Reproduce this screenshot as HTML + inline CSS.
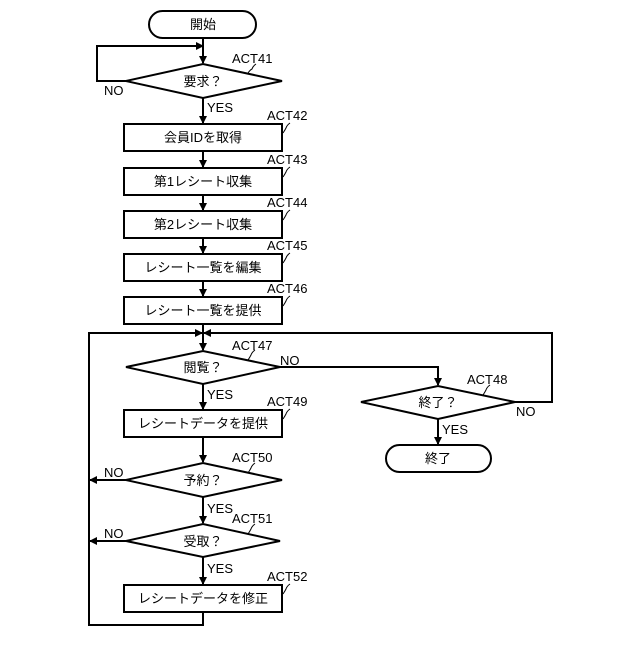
<!DOCTYPE html>
<html><head><meta charset="utf-8"><style>
body{margin:0;background:#fff}
svg text{font-family:"Liberation Sans","Noto Sans CJK JP",sans-serif;font-size:13px;fill:#000}
</style></head><body>
<svg width="640" height="640" viewBox="0 0 640 640" xmlns="http://www.w3.org/2000/svg">
<defs><marker id="a" markerWidth="8" markerHeight="8" refX="7" refY="4" orient="auto" markerUnits="userSpaceOnUse"><path d="M0,0 L8,4 L0,8 Z" fill="#000"/></marker></defs>
<g stroke="#000" stroke-width="2" fill="#fff">
<rect x="149" y="11" width="107" height="27" rx="13.5"/>
<polygon points="126,81 203,64 282,81 203,98"/>
<rect x="124" y="124" width="158" height="27"/>
<rect x="124" y="168" width="158" height="27"/>
<rect x="124" y="211" width="158" height="27"/>
<rect x="124" y="254" width="158" height="27"/>
<rect x="124" y="297" width="158" height="27"/>
<polygon points="126,367 203,351 280,367 203,384"/>
<polygon points="361,402 438,386 515,402 438,419"/>
<rect x="386" y="445" width="105" height="27" rx="13.5"/>
<rect x="124" y="410" width="158" height="27"/>
<polygon points="126,480 203,463 282,480 203,497"/>
<polygon points="126,541 203,524 280,541 203,557"/>
<rect x="124" y="585" width="158" height="27"/>
</g>
<g stroke="#000" stroke-width="2" fill="none">
<line x1="203" y1="38" x2="203" y2="63" marker-end="url(#a)"/>
<polyline points="126,81 97,81 97,46 203,46" marker-end="url(#a)"/>
<line x1="203" y1="98" x2="203" y2="123" marker-end="url(#a)"/>
<line x1="203" y1="151" x2="203" y2="167" marker-end="url(#a)"/>
<line x1="203" y1="195" x2="203" y2="210" marker-end="url(#a)"/>
<line x1="203" y1="238" x2="203" y2="253" marker-end="url(#a)"/>
<line x1="203" y1="281" x2="203" y2="296" marker-end="url(#a)"/>
<line x1="203" y1="324" x2="203" y2="350" marker-end="url(#a)"/>
<polyline points="203,612 203,625 89,625 89,333 202,333" marker-end="url(#a)"/>
<polyline points="515,402 552,402 552,333 204,333" marker-end="url(#a)"/>
<polyline points="280,367 438,367 438,385" marker-end="url(#a)"/>
<line x1="438" y1="419" x2="438" y2="444" marker-end="url(#a)"/>
<line x1="203" y1="384" x2="203" y2="409" marker-end="url(#a)"/>
<line x1="203" y1="437" x2="203" y2="462" marker-end="url(#a)"/>
<line x1="203" y1="497" x2="203" y2="523" marker-end="url(#a)"/>
<line x1="203" y1="557" x2="203" y2="584" marker-end="url(#a)"/>
<line x1="126" y1="480" x2="90" y2="480" marker-end="url(#a)"/>
<line x1="126" y1="541" x2="90" y2="541" marker-end="url(#a)"/>
</g>
<g stroke="#000" stroke-width="1" fill="none">
<path d="M248,73 q2,-3 4,-4 q1,-3 4,-5"/>
<path d="M283,133 q2,-3 3,-5 q1,-3 4,-5"/>
<path d="M283,177 q2,-3 3,-5 q1,-3 4,-5"/>
<path d="M283,220 q2,-3 3,-5 q1,-3 4,-5"/>
<path d="M283,263 q2,-3 3,-5 q1,-3 4,-5"/>
<path d="M283,306 q2,-3 3,-5 q1,-3 4,-5"/>
<path d="M248,360 q2,-3 3,-5 q1,-3 4,-5"/>
<path d="M483,395 q2,-3 3,-5 q1,-3 4,-5"/>
<path d="M283,419 q2,-3 3,-5 q1,-3 4,-5"/>
<path d="M248,473 q2,-3 3,-5 q1,-3 4,-5"/>
<path d="M248,534 q2,-3 3,-5 q1,-3 4,-5"/>
<path d="M283,594 q2,-3 3,-5 q1,-3 4,-5"/>
</g>
<g text-anchor="middle">
<text x="203" y="29">開始</text>
<text x="203" y="86">要求？</text>
<text x="203" y="142">会員IDを取得</text>
<text x="203" y="186">第1レシート収集</text>
<text x="203" y="229">第2レシート収集</text>
<text x="203" y="272">レシート一覧を編集</text>
<text x="203" y="315">レシート一覧を提供</text>
<text x="203" y="372">閲覧？</text>
<text x="438" y="407">終了？</text>
<text x="438" y="463">終了</text>
<text x="203" y="428">レシートデータを提供</text>
<text x="203" y="485">予約？</text>
<text x="203" y="546">受取？</text>
<text x="203" y="603">レシートデータを修正</text>
</g>
<g>
<text x="232" y="63">ACT41</text>
<text x="267" y="120">ACT42</text>
<text x="267" y="164">ACT43</text>
<text x="267" y="207">ACT44</text>
<text x="267" y="250">ACT45</text>
<text x="267" y="293">ACT46</text>
<text x="232" y="350">ACT47</text>
<text x="467" y="384">ACT48</text>
<text x="267" y="406">ACT49</text>
<text x="232" y="462">ACT50</text>
<text x="232" y="523">ACT51</text>
<text x="267" y="581">ACT52</text>
<text x="104" y="95">NO</text>
<text x="207" y="112">YES</text>
<text x="280" y="365">NO</text>
<text x="207" y="399">YES</text>
<text x="516" y="416">NO</text>
<text x="442" y="434">YES</text>
<text x="104" y="477">NO</text>
<text x="207" y="513">YES</text>
<text x="104" y="538">NO</text>
<text x="207" y="573">YES</text>
</g>
</svg>
</body></html>
